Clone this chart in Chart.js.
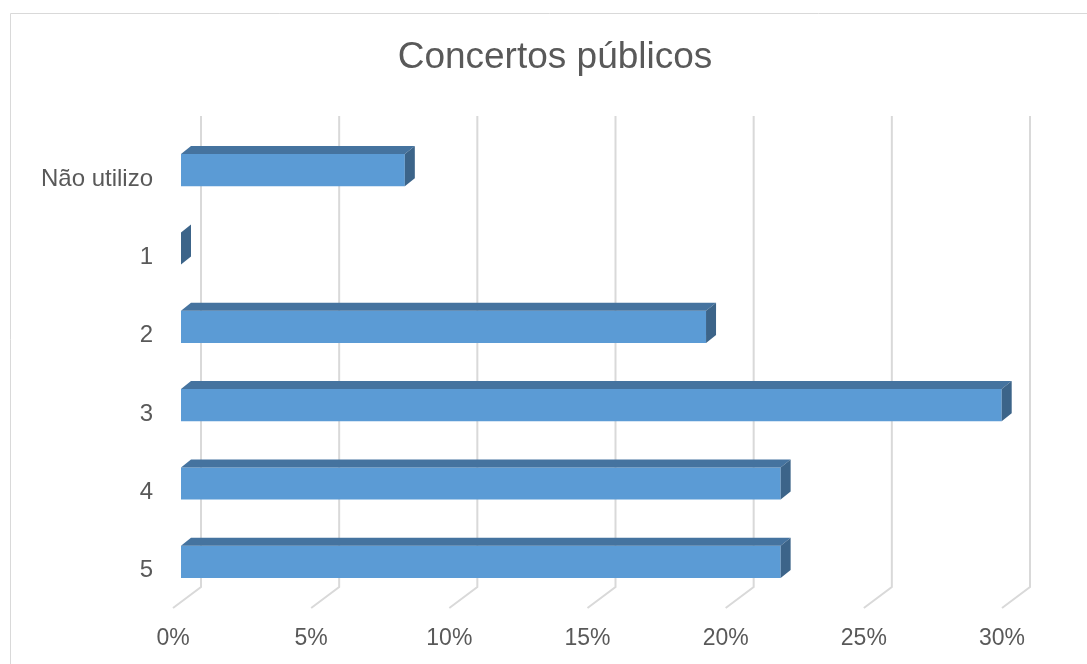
<!DOCTYPE html>
<html lang="pt">
<head>
  <meta charset="UTF-8">
  <title>Concertos públicos</title>
  <script src="https://cdn.jsdelivr.net/npm/chart.js"></script>
  <style>
    body {
      margin: 0;
      background: #ffffff;
      overflow: hidden;
    }
    canvas {
      display: block;
    }
  </style>
</head>
<body>

  <canvas id="grafico" width="1087" height="664"></canvas>

  <script>
    const categorias = ['Não utilizo', '1', '2', '3', '4', '5'];
    const percentagens = [8.1, 0, 19.0, 29.7, 21.7, 21.7];
    const ticksX = [0, 5, 10, 15, 20, 25, 30];

    const corFrente = '#5b9bd5';
    const corTopo = '#45739f';
    const corLado = '#3c6489';
    const corGrelha = '#d9d9d9';
    const corTexto = '#595959';

    // profundidade do efeito 3D
    const prof = { dx: 10, dy: 8 };

    const moldura = {
      id: 'moldura',
      afterLayout(chart) {
        // centrar o título como no Excel
        if (chart.titleBlock) chart.titleBlock.left = 100;
      },
      beforeDraw(chart) {
        const ctx = chart.ctx;
        ctx.save();
        ctx.strokeStyle = corGrelha;
        ctx.lineWidth = 1;
        ctx.beginPath();
        ctx.moveTo(10.5, 700);
        ctx.lineTo(10.5, 13.5);
        ctx.lineTo(1200, 13.5);
        ctx.stroke();
        ctx.restore();
      }
    };

    // grelha na parede do fundo + chão inclinado
    const grelha3d = {
      id: 'grelha3d',
      beforeDatasetsDraw(chart) {
        const ctx = chart.ctx;
        const area = chart.chartArea;
        const x = chart.scales.x;
        ctx.save();
        ctx.strokeStyle = corGrelha;
        ctx.lineWidth = 2;
        ticksX.forEach(v => {
          const px = x.getPixelForValue(v);
          ctx.beginPath();
          ctx.moveTo(px + 20, area.top - 15);
          ctx.lineTo(px + 20, area.bottom - 14);
          ctx.lineTo(px - 8, area.bottom + 7);
          ctx.stroke();
        });
        ctx.restore();
      }
    };

    // faces de cima e do lado de cada barra
    const barras3d = {
      id: 'barras3d',
      afterDatasetsDraw(chart) {
        const ctx = chart.ctx;
        const meta = chart.getDatasetMeta(0);
        ctx.save();
        meta.data.forEach(bar => {
          const p = bar.getProps(['x', 'y', 'base', 'height'], true);
          const topo = p.y - p.height / 2;
          const baixo = p.y + p.height / 2;
          ctx.fillStyle = corTopo;
          ctx.beginPath();
          ctx.moveTo(p.base, topo);
          ctx.lineTo(p.x, topo);
          ctx.lineTo(p.x + prof.dx, topo - prof.dy);
          ctx.lineTo(p.base + prof.dx, topo - prof.dy);
          ctx.closePath();
          if (p.x > p.base) ctx.fill();
          ctx.fillStyle = corLado;
          ctx.beginPath();
          ctx.moveTo(p.x, topo);
          ctx.lineTo(p.x + prof.dx, topo - prof.dy);
          ctx.lineTo(p.x + prof.dx, baixo - prof.dy);
          ctx.lineTo(p.x, baixo);
          ctx.closePath();
          ctx.fill();
        });
        ctx.restore();
      }
    };

    const ctx = document.getElementById('grafico').getContext('2d');
    new Chart(ctx, {
      type: 'bar',
      data: {
        labels: categorias,
        datasets: [{
          data: percentagens,
          backgroundColor: corFrente,
          borderWidth: 0,
          categoryPercentage: 1,
          barPercentage: 0.41
        }]
      },
      options: {
        indexAxis: 'y',
        responsive: false,
        animation: false,
        layout: {
          padding: { left: 0, right: 77, top: 0, bottom: 0 }
        },
        scales: {
          x: {
            min: 0,
            max: 30,
            grid: { display: false, drawTicks: false },
            border: { display: false },
            afterBuildTicks(scale) {
              scale.ticks = ticksX.map(v => ({ value: v }));
            },
            afterFit(scale) {
              scale.height = 63;
            },
            ticks: {
              padding: 24,
              labelOffset: -8,
              color: corTexto,
              font: { family: '"Liberation Sans", Arial, sans-serif', size: 23 },
              callback: v => v + '%'
            }
          },
          y: {
            grid: { display: false, drawTicks: false },
            border: { display: false },
            afterFit(scale) {
              scale.width = 181;
            },
            ticks: {
              padding: 28,
              labelOffset: 9,
              color: corTexto,
              font: { family: '"Liberation Sans", Arial, sans-serif', size: 24 }
            }
          }
        },
        plugins: {
          legend: { display: false },
          tooltip: { enabled: false },
          title: {
            display: true,
            text: 'Concertos públicos',
            color: corTexto,
            font: { family: '"Liberation Sans", Arial, sans-serif', size: 37, weight: 'normal' },
            padding: { top: 36, bottom: 50.6 }
          }
        }
      },
      plugins: [moldura, grelha3d, barras3d]
    });
  </script>

</body>
</html>
